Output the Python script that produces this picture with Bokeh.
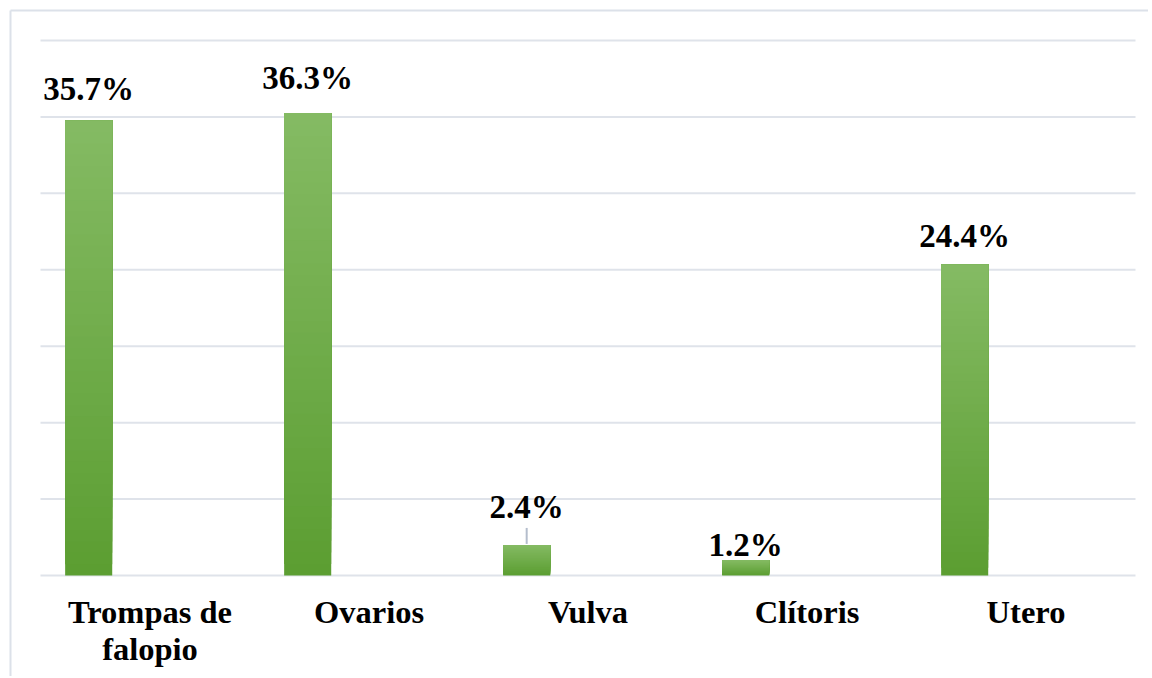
from bokeh.plotting import figure
from bokeh.models import ColumnDataSource, Range1d, LinearAxis, FixedTicker
from bokeh.core.properties import value
from bokeh.embed import file_html
from bokeh.resources import INLINE

# ---- data ----
categories = ["Trompas de\nfalopio", "Ovarios", "Vulva", "Clítoris", "Utero"]
percentages = [35.7, 36.3, 2.4, 1.2, 24.4]
grid_values = [0, 6, 12, 18, 24, 30, 36, 42]
# label gap above bar top (px) and which label has a leader line
label_gaps = [21, 24, 27, 4, 18]
leader = [False, False, True, False, False]

# ---- geometry (px, relative to figure origin) ----
W, H = 1148, 676
FRAME_L, FRAME_T, FRAME_R, FRAME_B = 10, 10, W, H
SLOT = 219.0
CAT0 = 149.5
Y0_PX, Y42_PX = 575.0, 40.0
SCALE = (Y0_PX - Y42_PX) / 42.0
BASELINE_FIX = 11  # compensation for rendered text baseline

x_start = (FRAME_L - CAT0) / SLOT
x_end = (FRAME_R - CAT0) / SLOT
y_end = (Y0_PX - FRAME_T) / SCALE
y_start = -(FRAME_B - Y0_PX) / SCALE

p = figure(width=W, height=H, output_backend="svg", toolbar_location=None,
           x_range=Range1d(x_start, x_end), y_range=Range1d(y_start, y_end),
           x_axis_location=None, y_axis_location=None,
           min_border_left=FRAME_L, min_border_top=FRAME_T,
           min_border_right=0, min_border_bottom=0)
p.xgrid.visible = False
p.ygrid.visible = False
p.outline_line_color = None
p.background_fill_color = "white"
p.border_fill_color = "white"

border_color = "#dce1e9"
for loc in ("left", "above"):
    ax = LinearAxis(ticker=FixedTicker(ticks=[]), axis_line_color=border_color,
                    axis_line_width=2, major_tick_out=0, major_tick_in=0,
                    minor_tick_out=0, minor_tick_in=0, major_label_standoff=0,
                    axis_label=None)
    p.add_layout(ax, loc)

# gridlines
n_cat = len(categories)
p.segment(x0=[-0.5] * len(grid_values), x1=[n_cat - 0.5] * len(grid_values),
          y0=grid_values, y1=grid_values, line_color="#dfe3ea", line_width=2)

# bars with vertical gradient (light top -> darker bottom)
xs = [i - 0.28 for i in range(n_cat)]
BAR_W = 0.215
top_c = (0x85, 0xBB, 0x64)
bot_c = (0x5C, 0x9E, 0x32)
N = 40
for k in range(N):
    f = k / N
    c = tuple(int(round(bot_c[j] + (top_c[j] - bot_c[j]) * f)) for j in range(3))
    col = "#%02x%02x%02x" % c
    p.vbar(x=xs, width=BAR_W, bottom=[v * f for v in percentages], top=percentages,
           fill_color=col, line_color=None)

# leader lines
lx = [xs[i] for i in range(n_cat) if leader[i]]
ly0 = [percentages[i] + 1.0 / SCALE for i in range(n_cat) if leader[i]]
ly1 = [percentages[i] + 17.0 / SCALE for i in range(n_cat) if leader[i]]
p.segment(x0=lx, x1=lx, y0=ly0, y1=ly1, line_color="#b4bdcc", line_width=2)

# data labels
src = ColumnDataSource(dict(x=xs, y=percentages,
                            txt=["%.1f%%" % v for v in percentages],
                            yo=[-(g + BASELINE_FIX) for g in label_gaps]))
p.text(x="x", y="y", text="txt", y_offset="yo", source=src,
       text_font=value("Liberation Serif"), text_font_style="bold",
       text_font_size="33px", text_align="center", text_baseline="alphabetic",
       text_color="#000000")

# category labels
csrc = ColumnDataSource(dict(x=list(range(n_cat)), y=[0] * n_cat, txt=categories))
p.text(x="x", y="y", text="txt", source=csrc, y_offset=18,
       text_font=value("Liberation Serif"), text_font_style="bold",
       text_font_size="32.5px", text_align="center", text_baseline="top",
       text_line_height=1.04, text_color="#000000")

open("out.html", "w").write(file_html(p, INLINE))
